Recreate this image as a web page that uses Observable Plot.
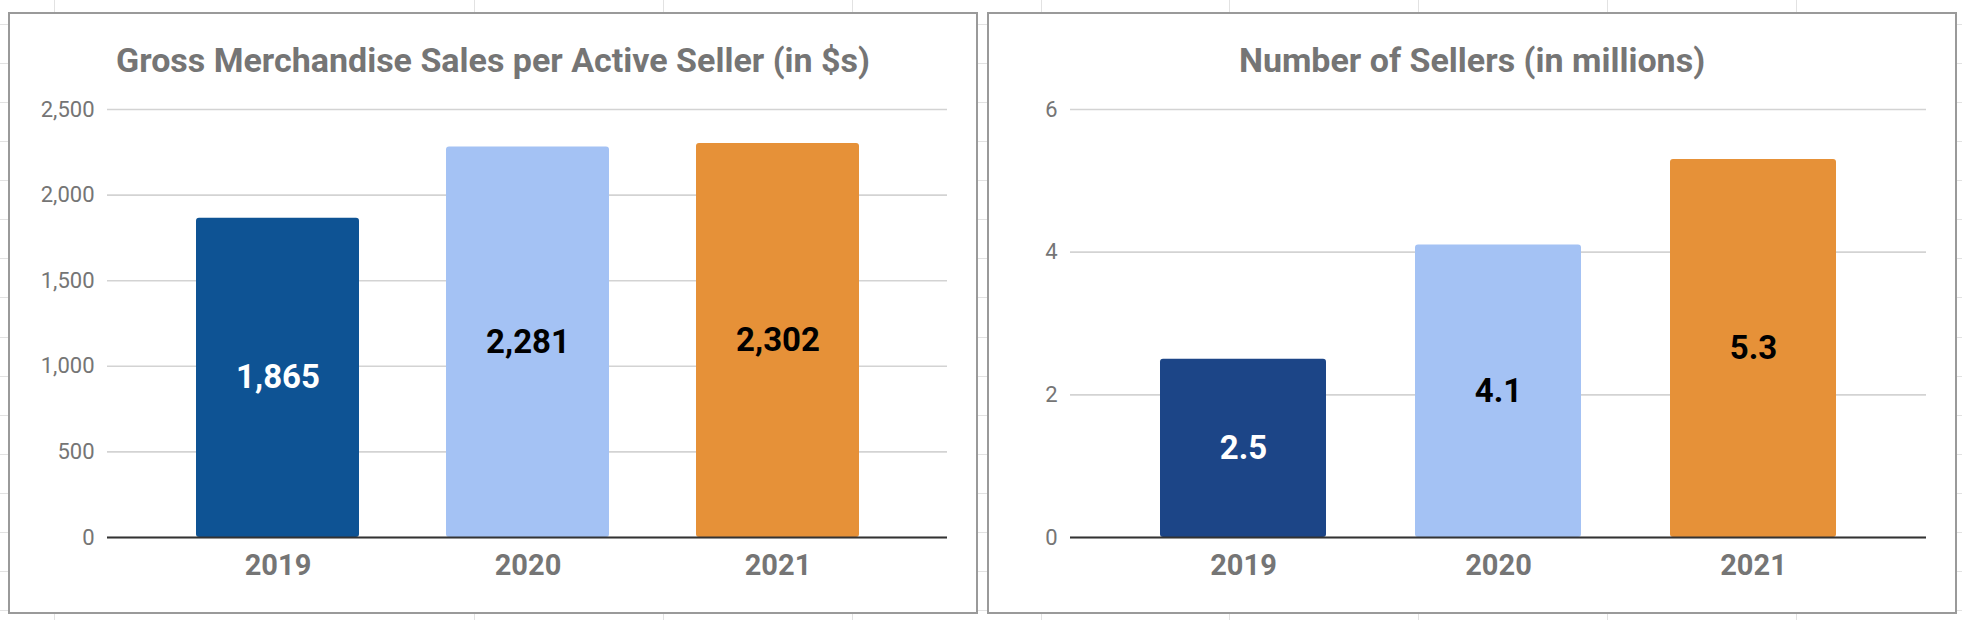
<!DOCTYPE html>
<html>
<head>
<meta charset="utf-8">
<script src="https://cdn.jsdelivr.net/npm/d3@7"></script>
<script src="https://cdn.jsdelivr.net/npm/@observablehq/plot@0.6"></script>
<style>
  html, body { margin:0; padding:0; background:#fff; }
  body { width:1962px; height:620px; position:relative; overflow:hidden; font-family: Roboto, "Noto Sans", sans-serif; }
  .gl-v { position:absolute; top:0; width:1px; height:620px; background:#e2e2e2; }
  .gl-h { position:absolute; left:0; height:1px; width:1962px; background:#e2e2e2; }
  .panel { position:absolute; top:12px; width:970px; height:602px; box-sizing:border-box; border:2px solid #9a9a9a; background:#fff; }
  .title { position:absolute; left:0; right:0; top:30px; text-align:center; font-family:Roboto, sans-serif; font-weight:700; font-size:34px; line-height:33px; color:#757575; white-space:nowrap; }
  .chart { position:absolute; left:0; top:71px; }
</style>
</head>
<body>
<div id="bg"></div>
<div class="panel" id="p1" style="left:8px"><div class="title">Gross Merchandise Sales per Active Seller (in $s)</div><div class="chart" id="c1"></div></div>
<div class="panel" id="p2" style="left:987px"><div class="title">Number of Sellers (in millions)</div><div class="chart" id="c2"></div></div>
<script>
// ---- data ----
const years = ["2019", "2020", "2021"];
const gmsValues = [1865, 2281, 2302];
const sellerValues = [2.5, 4.1, 5.3];
const gmsColors = ["#0e5394", "#a4c2f4", "#e69138"];
const sellerColors = ["#1c4587", "#a4c2f4", "#e69138"];
const labelColors = ["#ffffff", "#000000", "#000000"];
const gmsTicks = [0, 500, 1000, 1500, 2000, 2500];
const sellerTicks = [0, 2, 4, 6];

// ---- spreadsheet background grid (decoration) ----
const bg = document.getElementById("bg");
[54, 474, 663, 852, 1041, 1229, 1418, 1607, 1796].forEach(x => {
  const d = document.createElement("div"); d.className = "gl-v"; d.style.left = x + "px"; bg.appendChild(d);
});
for (let y = 23.7; y < 620; y += 39.1) {
  const d = document.createElement("div"); d.className = "gl-h"; d.style.top = Math.round(y) + "px"; bg.appendChild(d);
}

function chart(values, colors, ticks, yMax, fmt, marginLeft, tickPadding) {
  const rows = years.map((y, i) => ({year: y, value: values[i], color: colors[i], labelColor: labelColors[i]}));
  return Plot.plot({
    width: 966,
    height: 513,
    marginTop: 24,
    marginBottom: 61,
    marginLeft: marginLeft,
    marginRight: 29,
    style: {fontFamily: "Roboto, sans-serif", color: "#757575", background: "transparent", overflow: "visible"},
    x: {domain: years, padding: 0.35},
    y: {domain: [0, yMax]},
    color: {type: "identity"},
    marks: [
      Plot.gridY(ticks, {stroke: "#d3d3d3", strokeOpacity: 1, strokeWidth: 1.6}),
      Plot.axisY(ticks, {tickSize: 0, tickPadding: tickPadding, fontSize: 22, tickFormat: d3.format(","), label: null}),
      Plot.axisX({tickSize: 0, tickPadding: 17, fontSize: 29, fontWeight: "bold", label: null}),
      Plot.barY(rows, {x: "year", y: "value", fill: "color", rx: 3}),
      Plot.ruleY([0], {stroke: "#333333", strokeWidth: 2}),
      Plot.text(rows, {x: "year", y: d => d.value / 2, text: d => fmt(d.value), fill: "labelColor", fontSize: 33, fontWeight: "bold"})
    ]
  });
}

document.getElementById("c1").appendChild(chart(gmsValues, gmsColors, gmsTicks, 2500, d3.format(","), 97, 13));
document.getElementById("c2").appendChild(chart(sellerValues, sellerColors, sellerTicks, 6, d3.format(".1f"), 81, 13));
</script>
</body>
</html>
